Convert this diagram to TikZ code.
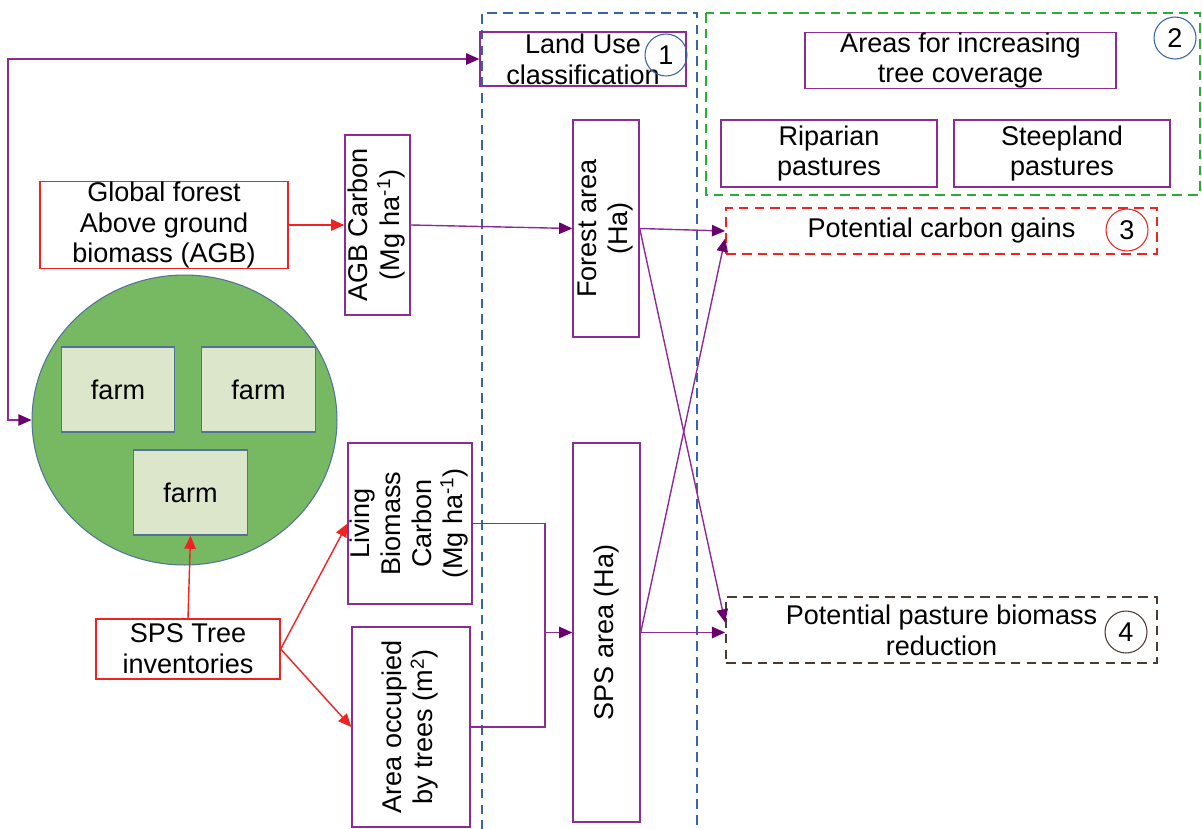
\documentclass[tikz,border=0pt]{standalone}
\usepackage{fontspec}
\setmainfont{Liberation Sans}
\usepackage{graphicx}
\usepackage{xcolor}
\usetikzlibrary{arrows.meta}
\usetikzlibrary{shapes.geometric}

\definecolor{purp}{RGB}{140,45,150}
\definecolor{darkpurp}{RGB}{105,0,110}
\definecolor{redl}{RGB}{240,35,35}
\definecolor{greenl}{RGB}{40,175,50}
\definecolor{bluel}{RGB}{55,100,170}
\definecolor{brownl}{RGB}{75,60,50}
\definecolor{fieldgreen}{RGB}{119,185,99}
\definecolor{farmfill}{RGB}{220,230,202}
\definecolor{farmedge}{RGB}{80,115,150}

\tikzset{
  pbox/.style={draw=purp, line width=0.8pt, align=center, inner sep=0pt},
  rbox/.style={draw=redl, line width=0.8pt, align=center, inner sep=0pt},
  farmbox/.style={draw=farmedge, fill=farmfill, line width=0.7pt, minimum width=2.27cm, minimum height=1.7cm},
  numcirc/.style={circle, draw=#1, line width=0.6pt, minimum size=0.84cm, inner sep=0pt},
  dashbox/.style={draw=#1, line width=1.1pt, dash pattern=on 5.5pt off 3.5pt, align=center, inner sep=0pt},
  pline/.style={draw=purp, line width=0.8pt},
  ptip/.tip={Triangle[length=7.5pt, width=6.5pt, color=darkpurp]},
  rtip/.tip={Triangle[length=7.5pt, width=6.5pt]},
  parrow/.style={pline, -ptip},
  rarrow/.style={draw=redl, line width=0.8pt, -rtip},
}

\begin{document}
\begin{tikzpicture}[x=0.02cm, y=-0.02cm, font=\fontsize{15.4}{17.5}\selectfont]
\useasboundingbox (0,0) rectangle (1202,828);

% groups
\draw[dashbox=bluel] (482,830) -- (482,13) -- (697,13) -- (697,830);
\draw[dashbox=greenl] (706,13) rectangle (1200,195);

% field with farms
\node[ellipse, draw=farmedge, fill=fieldgreen, line width=0.6pt, minimum width=6.1cm, minimum height=5.8cm] (field) at (184.5,420) {};
\node[farmbox] (farm1) at (118,389.5) {farm};
\node[farmbox] (farm2) at (258.5,389.5) {farm};
\node[farmbox] (farm3) at (190.5,492.5) {farm};

% inputs
\node[rbox, minimum width=4.96cm, minimum height=1.72cm] (glob) at (164,225) {Global forest\\Above ground\\biomass (AGB)};
\node[rbox, minimum width=3.68cm, minimum height=1.2cm] (inv) at (188,649) {SPS Tree\\inventories};

% carbon and area
\node[pbox, minimum width=1.3cm, minimum height=3.6cm] (agb) at (377.5,225)
  {\rotatebox{90}{\begin{tabular}{@{}c@{}}AGB Carbon\\(Mg ha\textsuperscript{-1})\end{tabular}}};
\node[pbox, minimum width=2.4cm, minimum height=3.22cm] (living) at (410,523.5)
  {\rotatebox{90}{\begin{tabular}{@{}c@{}}Living\\Biomass\\Carbon\\(Mg ha\textsuperscript{-1})\end{tabular}}};
\node[pbox, minimum width=2.36cm, minimum height=4cm] (occup) at (411,727)
  {\rotatebox{90}{\begin{tabular}{@{}c@{}}Area occupied\\by trees (m\textsuperscript{2})\end{tabular}}};

% land use
\node[pbox, minimum width=4.12cm, minimum height=1.08cm] (lu) at (583,59) {Land Use\\classification};
\node[numcirc=bluel] (n1) at (666,55) {1};
\node[pbox, minimum width=1.32cm, minimum height=4.34cm] (forest) at (606,228.5)
  {\rotatebox{90}{\begin{tabular}{@{}c@{}}Forest area\\(Ha)\end{tabular}}};
\node[pbox, minimum width=1.34cm, minimum height=7.58cm] (sps) at (606.5,632.5)
  {\rotatebox{90}{SPS area (Ha)}};

% tree coverage
\node[pbox, minimum width=6.22cm, minimum height=1.1cm] (cover) at (960.5,60.5) {Areas for increasing\\tree coverage};
\node[pbox, minimum width=4.32cm, minimum height=1.34cm] (ripar) at (829,153.5) {Riparian\\pastures};
\node[pbox, minimum width=4.32cm, minimum height=1.34cm] (steep) at (1062,153.5) {Steepland\\pastures};
\node[numcirc=bluel] (n2) at (1175,38) {2};

% outputs
\node[dashbox=redl, minimum width=8.62cm, minimum height=0.92cm] (gain) at (941.5,231) {Potential carbon gains};
\node[numcirc=redl] (n3) at (1127,230) {3};
\node[dashbox=brownl, minimum width=8.62cm, minimum height=1.32cm] (pasture) at (941.5,630) {Potential pasture biomass\\reduction};
\node[numcirc=brownl] (n4) at (1126,632) {4};

% connectors
\coordinate (lbot) at (8,420);
\coordinate (ltop) at (8,59);
\draw[pline, ptip-ptip] (field.west) -- (lbot) -- (ltop) -- (lu.west);
\draw[rarrow] (glob) -- (agb);
\draw[rarrow] (inv.north) -- (farm3.south);
\draw[rarrow] (inv.east) -- (living.west);
\draw[rarrow] (inv.east) -- (occup.west);
\draw[parrow] (agb.east) -- (forest.west);
\coordinate (brk) at (545,632.5);
\draw[pline] (living.east) -| (brk) |- (occup.east);
\draw[parrow] (brk) -- (sps.west);
\draw[parrow] (forest.east) -- (gain.west);
\draw[parrow] (forest.east) -- (pasture.178);
\draw[parrow] (sps.east) -- (gain.182);
\draw[parrow] (sps.east) -- (sps.east -| pasture.west);
\end{tikzpicture}
\end{document}
